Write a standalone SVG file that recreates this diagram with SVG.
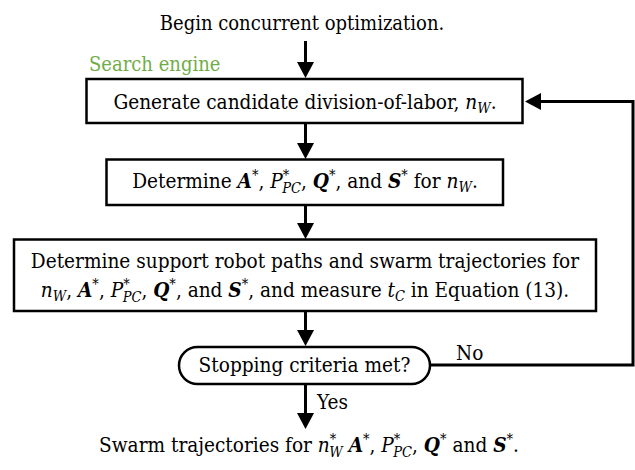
<svg xmlns="http://www.w3.org/2000/svg" width="635" height="470" viewBox="0 0 635 470">
<defs>
<style>
text{font-family:'DejaVu Serif Condensed','DejaVu Serif',serif;font-stretch:condensed;font-size:20.6px;fill:#000}
.c{text-anchor:middle}
.i{font-style:italic}
.b{font-style:italic;font-weight:bold}
.s{font-size:14.5px}
.box{fill:#fff;stroke:#000;stroke-width:2.5}
.ln{fill:none;stroke:#000;stroke-width:3;marker-end:url(#ah)}
.green{fill:#70AD47;font-size:20px}
</style>
<marker id="ah" markerUnits="userSpaceOnUse" markerWidth="17" markerHeight="17" viewBox="0 0 16 17" refX="0" refY="8.5" orient="auto">
<path d="M0,0 L16,8.5 L0,17 z" fill="#000"/>
</marker>
</defs>
<rect width="635" height="470" fill="#fff"/>

<g id="start">
<text class="c" x="302" y="30" style="font-size:20px">Begin concurrent optimization.</text>
</g>

<g id="label-search">
<text class="green" x="89" y="71">Search engine</text>
</g>

<g id="connectors">
<path class="ln" d="M305.5,41 V62"/>
<path class="ln" d="M305.5,123 V143"/>
<path class="ln" d="M305.5,205 V223"/>
<path class="ln" d="M305.5,311 V330"/>
<path class="ln" d="M305.5,384 V413"/>
<path class="ln" d="M430,365 H633 V101.5 H541"/>
<text x="456" y="360">No</text>
<text x="317" y="409">Yes</text>
</g>

<g id="generate">
<rect class="box" x="86.5" y="79" width="436" height="44"/>
<text class="c" x="305" y="109">Generate candidate division-of-labor, <tspan class="i">n</tspan><tspan class="i s" dy="4">W</tspan><tspan dy="-4">.</tspan></text>
</g>

<g id="determine">
<rect class="box" x="106.5" y="159.5" width="396.5" height="45.5"/>
<text class="c" x="305" y="188">Determine <tspan class="b">A</tspan><tspan class="s" dy="-8">*</tspan><tspan dy="8">, </tspan><tspan class="i">P</tspan><tspan class="s" dy="-8">*</tspan><tspan class="i s" dx="-7" dy="13">PC</tspan><tspan dy="-5">, </tspan><tspan class="b">Q</tspan><tspan class="s" dy="-8">*</tspan><tspan dy="8">, and </tspan><tspan class="b">S</tspan><tspan class="s" dy="-8">*</tspan><tspan dy="8"> for </tspan><tspan class="i">n</tspan><tspan class="i s" dy="4">W</tspan><tspan dy="-4">.</tspan></text>
</g>

<g id="paths">
<rect class="box" x="14" y="239.5" width="582" height="71.5"/>
<text class="c" x="305" y="268">Determine support robot paths and swarm trajectories for</text>
<text class="c" x="305" y="297"><tspan class="i">n</tspan><tspan class="i s" dy="4">W</tspan><tspan dy="-4">, </tspan><tspan class="b">A</tspan><tspan class="s" dy="-8">*</tspan><tspan dy="8">, </tspan><tspan class="i">P</tspan><tspan class="s" dy="-8">*</tspan><tspan class="i s" dx="-7" dy="13">PC</tspan><tspan dy="-5">, </tspan><tspan class="b">Q</tspan><tspan class="s" dy="-8">*</tspan><tspan dy="8">, and </tspan><tspan class="b">S</tspan><tspan class="s" dy="-8">*</tspan><tspan dy="8">, and measure </tspan><tspan class="i">t</tspan><tspan class="i s" dy="4">C</tspan><tspan dy="-4"> in Equation (13).</tspan></text>
</g>

<g id="stop">
<rect class="box" x="179" y="347" width="251" height="37" rx="18.5" ry="18.5"/>
<text class="c" x="304.5" y="372">Stopping criteria met?</text>
</g>

<g id="result">
<text class="c" x="309" y="452">Swarm trajectories for <tspan class="i">n</tspan><tspan class="s" dy="-8">*</tspan><tspan class="i s" dx="-7" dy="13">W</tspan><tspan dy="-5">  </tspan><tspan class="b">A</tspan><tspan class="s" dy="-8">*</tspan><tspan dy="8">, </tspan><tspan class="i">P</tspan><tspan class="s" dy="-8">*</tspan><tspan class="i s" dx="-7" dy="13">PC</tspan><tspan dy="-5">, </tspan><tspan class="b">Q</tspan><tspan class="s" dy="-8">*</tspan><tspan dy="8"> and </tspan><tspan class="b">S</tspan><tspan class="s" dy="-8">*</tspan><tspan dy="8">.</tspan></text>
</g>
</svg>
